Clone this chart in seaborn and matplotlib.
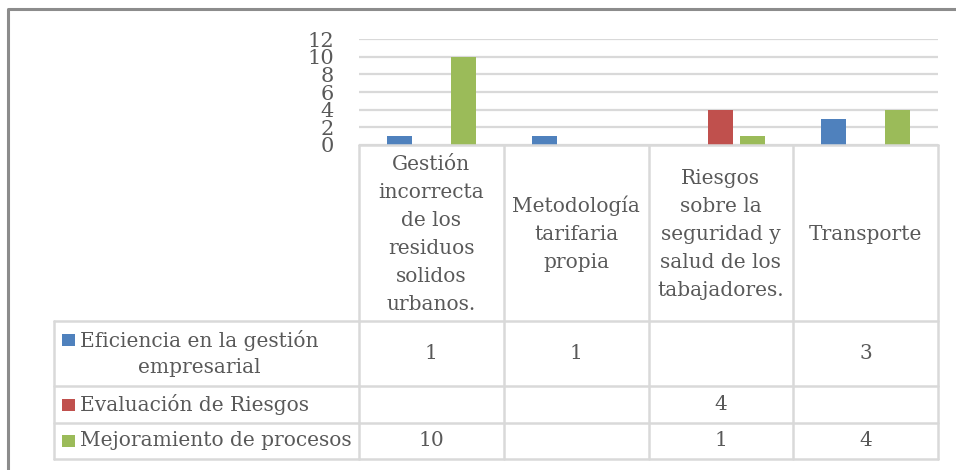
import numpy as np
import pandas as pd
import matplotlib
matplotlib.use("Agg")
import matplotlib.pyplot as plt
import seaborn as sns
from matplotlib.transforms import Affine2D, blended_transform_factory
from matplotlib.lines import Line2D
from matplotlib.patches import Rectangle

# ---------------- data ----------------
categories = [
    "Gestión\nincorrecta\nde los\nresiduos\nsolidos\nurbanos.",
    "Metodología\ntarifaria\npropia",
    "Riesgos\nsobre la\nseguridad y\nsalud de los\ntabajadores.",
    "Transporte",
]
series_names = [
    "Eficiencia en la gestión\nempresarial",
    "Evaluación de Riesgos",
    "Mejoramiento de procesos",
]
eficiencia = [1, 1, np.nan, 3]
evaluacion = [np.nan, np.nan, 4, np.nan]
mejoramiento = [10, np.nan, 1, 4]
yticks = [0, 2, 4, 6, 8, 10, 12]
colors = ["#4F81BD", "#C0504D", "#9BBB59"]

values = [eficiencia, evaluacion, mejoramiento]
rows = []
for s, vals in zip(series_names, values):
    for c, v in zip(categories, vals):
        rows.append({"cat": c, "serie": s, "val": v})
df = pd.DataFrame(rows)

# ---------------- figure ----------------
sns.set_theme(style="white")
plt.rcParams["font.family"] = ["DejaVu Serif"]
TXT = "#595959"
GRID = "#D9D9D9"
FS = 14.5
LS_HEAD = 1.6
LS = 1.48

W, H = 956, 470
fig = plt.figure(figsize=(W / 100, H / 100), dpi=100)

# pixel transform (origin top-left)
pix = Affine2D().scale(1 / W, -1 / H).translate(0, 1) + fig.transFigure

ax_left, ax_right, ax_top, ax_bot = 359, 938, 39, 145
ax = fig.add_axes([ax_left / W, 1 - ax_bot / H, (ax_right - ax_left) / W, (ax_bot - ax_top) / H])

sns.barplot(data=df, x="cat", y="val", hue="serie", order=categories,
            hue_order=series_names, palette=colors, width=0.663, gap=0.217,
            errorbar=None, ax=ax, legend=False, saturation=1,
            edgecolor="none", linewidth=0)

ax.set_xlim(-0.5, len(categories) - 0.5)
ax.set_ylim(0, 12)
ax.set_yticks(yticks)
ax.set_yticklabels([str(t) for t in yticks], fontsize=FS + 0.5, color=TXT)
ax.set_xticks([])
ax.set_xlabel("")
ax.set_ylabel("")
ax.tick_params(axis="y", length=0, pad=18)
for sp in ax.spines.values():
    sp.set_visible(False)
ax.yaxis.grid(True, color=GRID, linewidth=1.6)
ax.set_axisbelow(True)

# ---------------- data table ----------------
row_y = [145, 321, 386, 423, 459]   # header, row1, row2, row3, bottom
leg_left = 54
bl = blended_transform_factory(ax.transData, pix)
ncat = len(categories)
bounds = [i - 0.5 for i in range(ncat + 1)]

lw = 1.8
for y in row_y:
    fig.add_artist(Line2D([-0.5, ncat - 0.5], [y, y], transform=bl, color=GRID, lw=lw))
for y in row_y[1:]:
    fig.add_artist(Line2D([leg_left, ax_left], [y, y], transform=pix, color=GRID, lw=lw))
for b in bounds:
    fig.add_artist(Line2D([b, b], [row_y[0], row_y[-1]], transform=bl, color=GRID, lw=lw))
fig.add_artist(Line2D([leg_left, leg_left], [row_y[1], row_y[-1]], transform=pix, color=GRID, lw=lw))

# header texts
for i, c in enumerate(categories):
    fig.text(i, (row_y[0] + row_y[1]) / 2 + 1, c, transform=bl, ha="center", va="center",
             multialignment="center", fontsize=FS, color=TXT, linespacing=LS_HEAD)

# series rows
for r, (s, vals, col) in enumerate(zip(series_names, values, colors)):
    y0, y1 = row_y[r + 1], row_y[r + 2]
    yc = (y0 + y1) / 2
    nlines = s.count("\n") + 1
    first_line_y = yc - (nlines - 1) * 14
    fig.add_artist(Rectangle((62, first_line_y + 6), 13, -12, transform=pix,
                             facecolor=col, edgecolor="none"))
    fig.text(80, yc, s, transform=pix, ha="left", va="center", multialignment="center",
             fontsize=FS, color=TXT, linespacing=LS)
    for i, v in enumerate(vals):
        if not np.isnan(v):
            fig.text(i, yc, f"{int(v)}", transform=bl, ha="center", va="center",
                     fontsize=FS, color=TXT)

# outer chart border (left & top visible)
fig.add_artist(Line2D([8, 8, W + 5], [H + 5, 9, 9], transform=pix, color="#8C8C8C", lw=2.2))

fig.savefig("out.png", dpi=100)
